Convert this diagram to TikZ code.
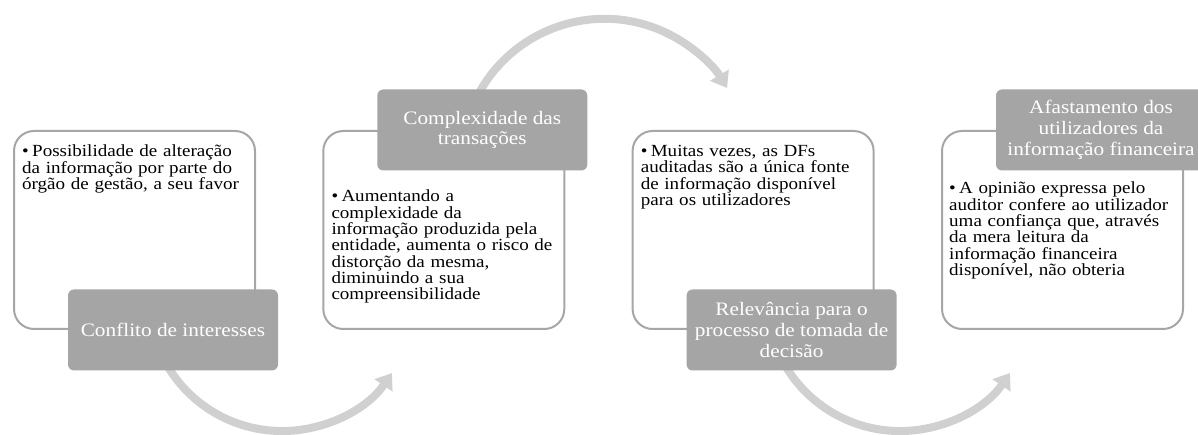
\documentclass[tikz,border=0pt]{standalone}
\usepackage{fontspec}
\setmainfont{Liberation Serif}[FakeStretch=1.12]
\usetikzlibrary{arrows.meta,positioning}

\definecolor{headgray}{HTML}{A5A5A5}
\definecolor{arcgray}{HTML}{D0D0D0}
\definecolor{edgegray}{HTML}{A6A6A6}

\lineskiplimit=-30pt
\newcommand{\bitem}{\noindent\hangindent=10pt\relax\hangafter=1\relax\makebox[10pt][l]{\textbullet}}

\tikzset{
  infobox/.style={draw=edgegray, line width=2pt, fill=white, rounded corners=20pt,
    minimum width=241pt, minimum height=198pt, anchor=south west, inner sep=0pt},
  headbox/.style={fill=headgray, text=white, rounded corners=6pt, minimum width=210pt,
    minimum height=81pt, align=center, inner sep=0pt,
    font=\fontsize{19}{20.7}\selectfont},
  bodytext/.style={anchor=north west, text width=228pt, inner sep=0pt,
    font=\fontsize{17}{16.3}\selectfont},
  cyclearrow/.style={arcgray, line width=8pt, -{Triangle[width=21pt,length=15pt]}}
}

\begin{document}
\begin{tikzpicture}[x=1pt,y=1pt]
\useasboundingbox (0,0) rectangle (1198,435);

% Draw the curved arrows between the steps
  \coordinate (a1) at (167.7,68.6);
  \coordinate (a2) at (476.9,338.0);
  \coordinate (a3) at (785.7,68.6);
  \draw[cyclearrow] (a1) arc[start angle=211, end angle=325.6, radius=133.3];
  \draw[cyclearrow] (a2) arc[start angle=153, end angle=31.1, radius=143.2];
  \draw[cyclearrow] (a3) arc[start angle=211, end angle=325.6, radius=133.3];

% Draw the white boxes
  \node[infobox] (box1) at (13,105) {};
  \node[infobox] (box2) at (322.3,105) {};
  \node[infobox] (box3) at (631.6,105) {};
  \node[infobox] (box4) at (941,105) {};

% Bullet text inside the boxes
  \node[bodytext] (txt1) at (22,290) {\bitem Possibilidade de alteração\newline da informação por parte do\newline órgão de gestão, a seu favor};
  \node[bodytext] (txt2) at (331.3,245) {\bitem Aumentando a\newline complexidade da\newline informação produzida pela\newline entidade, aumenta o risco de\newline distorção da mesma,\newline diminuindo a sua\newline compreensibilidade};
  \node[bodytext] (txt3) at (640.6,290) {\bitem Muitas vezes, as DFs\newline auditadas são a única fonte\newline de informação disponível\newline para os utilizadores};
  \node[bodytext] (txt4) at (949,253) {\bitem A opinião expressa pelo\newline auditor confere ao utilizador\newline uma confiança que, através\newline da mera leitura da\newline informação financeira\newline disponível, não obteria};

% Draw the grey headings
  \node[headbox] (head1) at ([xshift=160pt]box1.south west) {Conflito de interesses};
  \node[headbox] (head2) at ([xshift=160pt]box2.north west) {Complexidade das\\transações};
  \node[headbox] (head3) at ([xshift=160pt]box3.south west) {Relevância para o\\processo de tomada de\\decisão};
  \node[headbox] (head4) at ([xshift=160pt]box4.north west) {Afastamento dos\\utilizadores da\\informação financeira};

\end{tikzpicture}
\end{document}
